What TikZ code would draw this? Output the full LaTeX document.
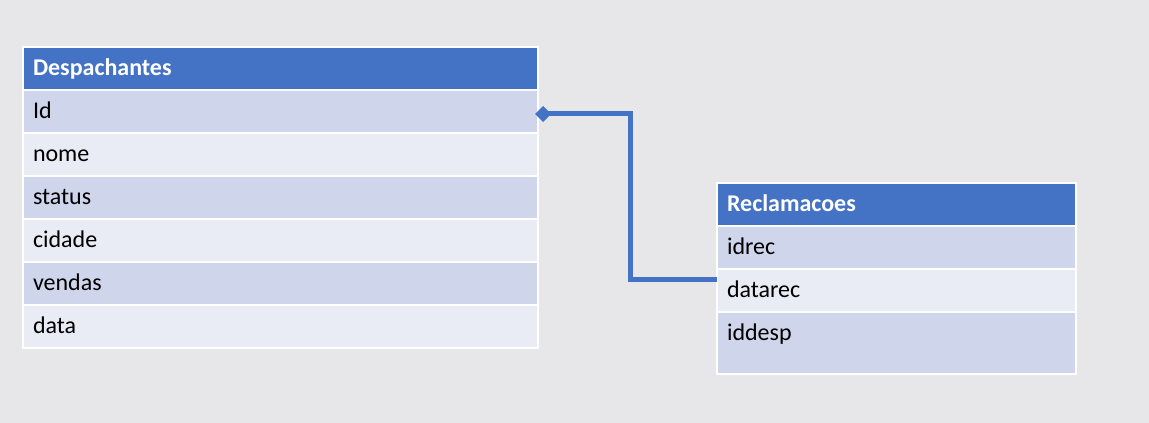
\documentclass[tikz,border=0pt]{standalone}
\usepackage{fontspec}
\setmainfont{Carlito}
\usetikzlibrary{positioning,arrows.meta}
\definecolor{erblue}{HTML}{4472C4}
\definecolor{erdark}{HTML}{CFD5EA}
\definecolor{erlight}{HTML}{E9EBF5}
\definecolor{ercanvas}{HTML}{E7E6E8}

\begin{document}
\begin{tikzpicture}[x=1pt,y=1pt,node distance=0pt and 0pt,
  cell/.style={draw=white,line width=1.5pt,anchor=north west,inner xsep=10pt,inner ysep=0pt,outer sep=0pt,
  align=left,minimum height=43pt,text height=18pt,text depth=3pt,font=\fontsize{24}{28}\selectfont,text=black},
  hd/.style={cell,fill=erblue,text=white,font=\fontsize{24}{28}\selectfont\bfseries},
  dk/.style={cell,fill=erdark},lt/.style={cell,fill=erlight},
  wa/.style={text width=495pt},wb/.style={text width=339pt}]
\fill[ercanvas] (0,0) rectangle (1149,423);
% Despachantes
\node[hd,wa] (dh) at (23,376) {Despachantes};\node[dk,wa,below=of dh.south west,anchor=north west] (id) {Id};\node[lt,wa,below=of id.south west,anchor=north west] (nm) {nome};\node[dk,wa,below=of nm.south west,anchor=north west] (st) {status};\node[lt,wa,below=of st.south west,anchor=north west] (cd) {cidade};\node[dk,wa,below=of cd.south west,anchor=north west] (vd) {vendas};\node[lt,wa,below=of vd.south west,anchor=north west] (dt) {data};
% Reclamacoes
\node[hd,wb] (rh) at (717,240) {Reclamacoes};\node[dk,wb,below=of rh.south west,anchor=north west] (ir) {idrec};\node[lt,wb,below=of ir.south west,anchor=north west] (dr) {datarec};\node[dk,wb,below=of dr.south west,anchor=north west,minimum height=62pt,text depth=22pt] (idp) {iddesp};
\draw[{Diamond[length=16pt,width=16pt]}-,erblue,line width=5pt] ([xshift=-3pt,yshift=-2.5pt]id.east) -- ++(95,0) |- ([yshift=11pt]dr.west);
\end{tikzpicture}
\end{document}
